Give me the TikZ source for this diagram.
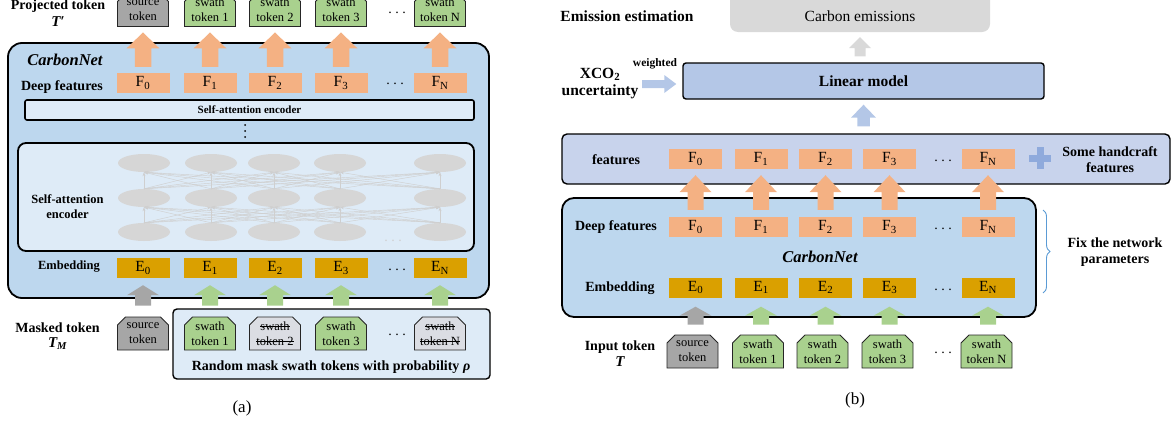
\documentclass[tikz,border=0pt]{standalone}
\usepackage{fontspec}
\setmainfont{Liberation Serif}
\usetikzlibrary{shapes.misc,shapes.geometric,arrows.meta,decorations.pathreplacing,calc}
\definecolor{cnblue}{HTML}{BDD7EE}
\definecolor{lightin}{HTML}{DEEBF7}
\definecolor{forange}{HTML}{F4B183}
\definecolor{egold}{HTML}{DAA000}
\definecolor{tgreen}{HTML}{A9D18E}
\definecolor{tgrey}{HTML}{A6A6A6}
\definecolor{tmask}{HTML}{DBDDE3}
\definecolor{featbox}{HTML}{C8D3EC}
\definecolor{linbox}{HTML}{B4C7E7}
\definecolor{carbonc}{HTML}{D9D9D9}
\definecolor{plusblue}{HTML}{8FAADC}
\definecolor{bracec}{HTML}{5B9BD5}
\definecolor{ellc}{HTML}{D6D6D6}
\definecolor{netline}{HTML}{CFCFCF}
\definecolor{arrblue}{HTML}{B4C7E7}
\newcommand\strk[1]{\setbox0=\hbox{#1}\rlap{\rule[0.27em]{\wd0}{0.6pt}}\box0}
% block arrow pointing up: #1 style, #2 from node, #3 to node, #4 gap tail, #5 gap tip, #6 head length, #7 half head width
\newcommand\blockup[7]{%
  \fill[#1] let \p1=(#2.north), \p2=(#3.south) in
    (\x2-#7pt/2,\y1+#4pt) -- (\x2-#7pt/2,\y2-#5pt-#6pt) -- (\x2-#7pt,\y2-#5pt-#6pt) --
    (\x2,\y2-#5pt) -- (\x2+#7pt,\y2-#5pt-#6pt) -- (\x2+#7pt/2,\y2-#5pt-#6pt) --
    (\x2+#7pt/2,\y1+#4pt) -- cycle;}
\begin{document}
\begin{tikzpicture}[x=1pt,y=-1pt,
  lbl/.style={font=\bfseries\fontsize{14}{16}\selectfont, align=center, inner sep=0pt},
  lblb/.style={font=\bfseries\fontsize{15.5}{17}\selectfont, align=center, inner sep=0pt},
  fb/.style={fill=forange, minimum width=53pt, minimum height=20pt, inner sep=0pt, font=\fontsize{15.5}{16}\selectfont},
  eb/.style={fb, fill=egold},
  tok/.style={chamfered rectangle, chamfered rectangle corners={north west,north east}, chamfered rectangle xsep=5pt, draw=black!85, line width=0.9pt, minimum width=51pt, minimum height=33pt, inner sep=0pt, align=center, font=\fontsize{12.5}{15}\selectfont},
  src/.style={tok, fill=tgrey},
  sw/.style={tok, fill=tgreen},
  msk/.style={tok, fill=tmask},
  dts/.style={anchor=base, inner sep=0pt, font=\fontsize{14}{14}\selectfont},
  ell/.style={ellipse, fill=ellc, minimum width=52pt, minimum height=18pt, inner sep=0pt},
  net/.style={draw=netline, line width=0.45pt, -{Stealth[length=4pt,width=3pt]}},
  bigbox/.style={draw=black, line width=1.8pt, rounded corners=14pt, fill=cnblue, inner sep=0pt},
]
\useasboundingbox (0,0) rectangle (1172,423);
\clip (0,0) rectangle (1172,423);
\newcommand\Fs[2]{#1\textsubscript{#2}}
\newcommand\dotsx{.\hspace{3.5pt}.\hspace{3.5pt}.}

% ================= (a) =================
\node[bigbox, minimum width=481pt, minimum height=255pt] (cna) at (248.5,170.5) {};
\node[font=\bfseries\itshape\fontsize{16.5}{18}\selectfont, inner sep=0pt] (cnalbl) at (65,60) {CarbonNet};
\node[lbl] (dfa) at (62,87) {Deep features};
\node[lbl, font=\bfseries\fontsize{12.5}{15}\selectfont] (emba) at (69,267) {Embedding};

% top tokens
\node[src] (pa0) at (143,10) {source\\token};
\node[sw] (pa1) at (210,10) {swath\\token 1};
\node[sw] (pa2) at (275,10) {swath\\token 2};
\node[sw] (pa3) at (341,10) {swath\\token 3};
\node[sw] (pa4) at (440,10) {swath\\token N};
\node[dts] (pad) at (397,13.5) {\dotsx};
\node[lbl] (proj) at (58,6) {Projected token};
\node[lbl, font=\bfseries\itshape\fontsize{15}{16}\selectfont] (projT) at (58,22) {T′};

% F row
\node[fb] (fa0) at (143,83) {\Fs{F}{0}};
\node[fb] (fa1) at (210,83) {\Fs{F}{1}};
\node[fb] (fa2) at (275,83) {\Fs{F}{2}};
\node[fb] (fa3) at (341,83) {\Fs{F}{3}};
\node[fb] (fa4) at (440,83) {\Fs{F}{N}};
\node[dts] (fad) at (395,84.5) {\dotsx};

% orange arrows
\foreach \i in {0,...,4} {\blockup{forange}{fa\i}{pa\i}{6}{5.5}{16}{16.5}}

% self-attention bar
\node[draw=black, line width=1.6pt, rounded corners=2pt, fill=lightin, minimum width=449pt, minimum height=20pt, inner sep=0pt, font=\bfseries\fontsize{11}{12}\selectfont] (sab) at (249.5,110) {Self-attention encoder};
\foreach \yy in {125,131,137} \fill (245,\yy) circle (1pt);

% inner encoder box
\node[draw=black, line width=1.8pt, rounded corners=8pt, fill=lightin, minimum width=456pt, minimum height=108pt, inner sep=0pt] (enc) at (246,197) {};
\node[lbl, font=\bfseries\fontsize{12.5}{15}\selectfont] (enclbl) at (67.5,206.5) {Self-attention\\encoder};
\foreach \n/\xx in {1/144,2/211,3/274,4/340,5/440} {
  \node[ell] (t\n) at (\xx,163) {};
  \node[ell] (m\n) at (\xx,198) {};
  \node[ell] (b\n) at (\xx,232) {};
}
\foreach \i in {1,...,5} \foreach \j in {1,...,5} {
  \draw[net] (b\i.north) -- (m\j.south);
  \draw[net] (m\i.north) -- (t\j.south);
}
\node[dts, text=netline] (elld) at (393,241.5) {\dotsx};

% E row
\node[eb] (ea0) at (143,268) {\Fs{E}{0}};
\node[eb] (ea1) at (210,268) {\Fs{E}{1}};
\node[eb] (ea2) at (275,268) {\Fs{E}{2}};
\node[eb] (ea3) at (341,268) {\Fs{E}{3}};
\node[eb] (ea4) at (440,268) {\Fs{E}{N}};
\node[dts] (ead) at (397,270) {\dotsx};

% random mask box and masked tokens
\node[draw=black, line width=1.4pt, rounded corners=4pt, fill=lightin, minimum width=317pt, minimum height=70pt, inner sep=0pt] (rmb) at (331.5,344) {};
\node[lbl] (rmtxt) at (331,367) {Random mask swath tokens with probability \textit{ρ}};
\node[src] (ma0) at (143,333.5) {source\\token};
\node[sw] (ma1) at (210,333.5) {swath\\token 1};
\node[msk] (ma2) at (275,333.5) {\strk{swath}\\\strk{token 2}};
\node[sw] (ma3) at (341,333.5) {swath\\token 3};
\node[msk] (ma4) at (440,333.5) {\strk{swath}\\\strk{token N}};
\node[dts] (mad) at (397,335) {\dotsx};
\node[lbl] (mtok) at (57.5,328) {Masked token};
\node[lbl, font=\bfseries\itshape\fontsize{15}{16}\selectfont] (mtokT) at (57.5,344) {T\textsubscript{M}};

\blockup{tgrey}{ma0}{ea0}{11}{7}{10}{16}
\foreach \i in {1,...,4} {\blockup{tgreen}{ma\i}{ea\i}{11}{7}{10}{16}}

\node[font=\fontsize{17}{18}\selectfont, inner sep=0pt] (capa) at (242,408) {(a)};

% ================= (b) =================
\node[lblb] (emest) at (627,16) {Emission estimation};
\node[fill=carbonc, rounded corners=8pt, minimum width=260pt, minimum height=42pt, inner sep=0pt] (carbon) at (860,11) {};
\node[font=\fontsize{15.5}{17}\selectfont, inner sep=0pt] (carbontxt) at (860,16) {Carbon emissions};

\node[draw=black, line width=1.4pt, rounded corners=3pt, fill=linbox, minimum width=361pt, minimum height=36pt, inner sep=0pt, font=\bfseries\fontsize{15.5}{17}\selectfont] (linear) at (863.5,81) {Linear model};
\blockup{carbonc}{linear}{carbon}{6}{5}{11}{11}

\node[lblb] (xco) at (600,74) {XCO\textsubscript{2}};
\node[lblb] (unc) at (600,92) {uncertainty};
\node[font=\bfseries\fontsize{11.5}{12}\selectfont, inner sep=0pt] (wgt) at (655,64) {weighted};
\coordinate (wtail) at (642,84);
\fill[arrblue] let \p1=(wtail), \p2=(linear.west) in
  (\x1,\y1+4pt) -- (\x2-18pt,\y1+4pt) -- (\x2-18pt,\y1+9pt) -- (\x2-6pt,\y1) --
  (\x2-18pt,\y1-9pt) -- (\x2-18pt,\y1-4pt) -- (\x1,\y1-4pt) -- cycle;

% features box
\node[draw=black, line width=1.4pt, rounded corners=5pt, fill=featbox, minimum width=608pt, minimum height=50pt, inner sep=0pt] (featb) at (866,159) {};
\blockup{arrblue}{featb}{linear}{7}{5}{13}{12.5}
\node[lbl] (featlbl) at (616,160) {features};
\node[fb] (fb0) at (695.5,159) {\Fs{F}{0}};
\node[fb] (fb1) at (761,159) {\Fs{F}{1}};
\node[fb] (fb2) at (825.5,159) {\Fs{F}{2}};
\node[fb] (fb3) at (889.5,159) {\Fs{F}{3}};
\node[fb] (fb4) at (988,159) {\Fs{F}{N}};
\node[dts] (fbd) at (943,161.5) {\dotsx};
\fill[plusblue] (1029,154.5) rectangle (1051,161.5);
\fill[plusblue] (1036.5,147) rectangle (1043.5,169);
\node[lbl] (hand) at (1110,160) {Some handcraft\\features};

% CarbonNet (b)
\node[bigbox, rounded corners=12pt, minimum width=474pt, minimum height=119pt] (cnb) at (799,257.5) {};
\node[lbl] (dfb) at (616,227) {Deep features};
\node[font=\bfseries\itshape\fontsize{16.5}{18}\selectfont, inner sep=0pt] (cnblbl) at (820,257) {CarbonNet};
\node[lbl] (embb) at (620,288) {Embedding};
\node[fb] (db0) at (695.5,227) {\Fs{F}{0}};
\node[fb] (db1) at (761,227) {\Fs{F}{1}};
\node[fb] (db2) at (825.5,227) {\Fs{F}{2}};
\node[fb] (db3) at (889.5,227) {\Fs{F}{3}};
\node[fb] (db4) at (988,227) {\Fs{F}{N}};
\node[dts] (dbd) at (943,229.5) {\dotsx};
\node[eb] (eb0) at (695.5,287.5) {\Fs{E}{0}};
\node[eb] (eb1) at (761,287.5) {\Fs{E}{1}};
\node[eb] (eb2) at (825.5,287.5) {\Fs{E}{2}};
\node[eb] (eb3) at (889.5,287.5) {\Fs{E}{3}};
\node[eb] (eb4) at (988,287.5) {\Fs{E}{N}};
\node[dts] (ebd) at (943,290) {\dotsx};
\foreach \i in {0,...,4} {\blockup{forange}{db\i}{fb\i}{7}{6}{17}{16}}

% input tokens
\node[src] (ib0) at (692.5,351.5) {source\\token};
\node[sw] (ib1) at (758,351.5) {swath\\token 1};
\node[sw] (ib2) at (822.5,351.5) {swath\\token 2};
\node[sw] (ib3) at (887.5,351.5) {swath\\token 3};
\node[sw] (ib4) at (986.5,351.5) {swath\\token N};
\node[dts] (ibd) at (943,353.5) {\dotsx};
\node[lbl] (intok) at (620,347) {Input token};
\node[lbl, font=\bfseries\itshape\fontsize{15}{16}\selectfont] (intokT) at (620,362) {T};
\blockup{tgrey}{ib0}{eb0}{10}{9}{9}{16}
\foreach \i in {1,...,4} {\blockup{tgreen}{ib\i}{eb\i}{10}{9}{9}{16}}

% brace
\coordinate (brt) at (1043,210);
\coordinate (brb) at (1043,293);
\draw[bracec, line width=0.9pt, decorate, decoration={brace, amplitude=7pt}] (brt) -- (brb);
\node[lbl] (fix) at (1115,252) {Fix the network\\parameters};

\node[font=\fontsize{17}{18}\selectfont, inner sep=0pt] (capb) at (855,400) {(b)};
\end{tikzpicture}
\end{document}
